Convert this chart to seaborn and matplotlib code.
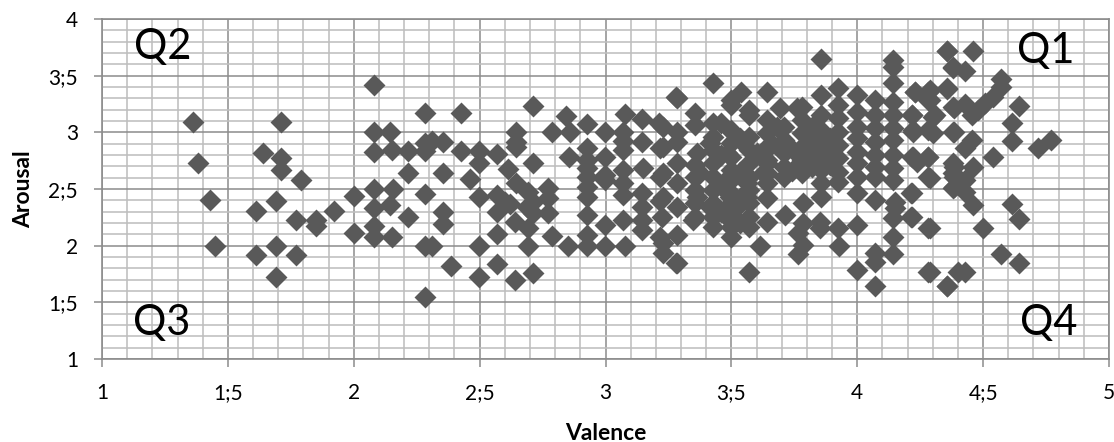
import matplotlib
matplotlib.use("Agg")
import matplotlib.pyplot as plt
import seaborn as sns
import pandas as pd
from matplotlib.ticker import MultipleLocator

sns.set_theme(style="white")
plt.rcParams['font.family'] = ['Lato', 'DejaVu Sans']

left_points = [
 (1.36,3.09),(1.38,2.73),(1.43,2.40),(1.45,2.0),(1.61,2.31),(1.61,1.92),(1.64,2.82),(1.69,2.39),
 (1.69,2.0),(1.69,1.72),(1.71,3.09),(1.71,2.77),(1.71,2.67),(1.77,2.23),(1.77,1.92),(1.79,2.58),
 (1.85,2.23),(1.85,2.17),(1.92,2.31),(2.0,2.44),(2.0,2.11),(2.08,3.42),(2.08,3.0),(2.08,2.83),
 (2.08,2.5),(2.08,2.33),(2.08,2.17),(2.08,2.08),
]
middle_points = [
 (2.144,3.0),(2.285,3.168),(2.428,3.168),(2.713,3.233),(2.845,3.144),(2.925,3.074),(3.077,3.159),
 (3.143,3.115),(3.214,3.08),(3.282,3.309),(2.644,3.0),(2.644,2.918),(2.644,2.874),(2.786,3.0),
 (2.859,3.0),(2.998,3.0),(3.07,3.0),(3.07,2.924),(3.143,2.912),(3.07,2.844),(2.925,2.859),
 (3.216,2.859),(2.153,2.844),(2.214,2.835),(2.285,2.835),(2.285,2.903),(2.309,2.924),(2.356,2.918),
 (2.428,2.835),(2.498,2.835),(2.498,2.727),(2.57,2.806),(2.614,2.674),(2.644,2.55),(2.713,2.727),
 (2.856,2.78),(2.928,2.756),(2.998,2.78),(2.928,2.683),(2.928,2.609),(2.928,2.521),(2.928,2.433),
 (2.998,2.624),(2.998,2.58),(3.07,2.668),(3.07,2.55),(3.07,2.447),(3.15,2.683),(3.216,2.609),
 (3.143,2.462),(3.143,2.344),(3.143,2.227),(3.143,2.138),(3.216,2.397),(3.223,2.256),(3.216,2.08),
 (3.23,1.933),(3.282,1.844),(2.214,2.644),(2.356,2.638),(2.461,2.588),(2.154,2.5),(2.285,2.456),
 (2.498,2.433),(2.57,2.447),(2.6,2.388),(2.62,2.368),(2.57,2.3),(2.693,2.477),(2.77,2.506),
 (2.773,2.418),(2.713,2.388),(2.687,2.344),(2.773,2.286),(2.713,2.286),(2.928,2.271),(2.144,2.359),
 (2.214,2.25),(2.356,2.3),(2.356,2.191),(2.64,2.212),(2.693,2.153),(2.57,2.103),(2.786,2.086),
 (2.925,2.094),(2.998,2.183),(3.07,2.227),(2.153,2.08),(2.285,2.0),(2.309,2.0),(2.498,2.0),
 (2.693,2.0),(2.852,2.0),(2.928,2.0),(2.998,2.0),(3.077,2.0),(2.385,1.821),(2.57,1.838),
 (2.498,1.727),(2.64,1.697),(2.713,1.756),(2.285,1.55),
]
dense_points = [
 (3.856,3.644),(4.143,3.638),(4.143,3.574),(4.355,3.718),(4.382,3.574),(3.428,3.432),(4.143,3.432),
 (3.285,3.306),(3.538,3.359),(3.5,3.285),(3.5,3.24),(3.643,3.359),(3.856,3.33),(3.925,3.388),
 (3.998,3.33),(4.07,3.285),(4.143,3.27),(4.23,3.359),(4.282,3.359),(4.355,3.38),(4.282,3.285),
 (4.384,3.212),(3.693,3.212),(3.779,3.227),(3.76,3.212),(3.571,3.197),(3.571,3.153),(3.356,3.168),
 (3.356,3.065),(3.925,3.241),(3.856,3.153),(3.925,3.124),(3.998,3.182),(4.07,3.153),(4.216,3.153),
 (4.309,3.153),(4.282,3.02),(4.223,3.02),(4.384,3.006),
 (3.856,3.02),(3.856,2.903),(3.856,2.785),(3.856,2.668),(3.856,2.55),(3.856,2.433),
 (3.925,3.006),(3.925,2.888),(3.925,2.771),(3.925,2.653),(3.925,2.565),
 (3.998,3.05),(3.998,2.947),(3.998,2.83),(3.998,2.727),(3.998,2.609),(3.998,2.462),
 (4.07,3.035),(4.07,2.918),(4.07,2.8),(4.07,2.697),(4.07,2.609),(4.07,2.403),
 (4.143,3.153),(4.143,3.035),(4.143,2.932),(4.143,2.8),(4.143,2.682),(4.143,2.58),
 (3.779,3.109),(3.779,2.991),(3.779,2.874),(3.779,2.756),(3.779,2.638),
 (3.71,3.05),(3.71,2.932),(3.71,2.815),(3.71,2.697),(3.71,2.609),
 (3.64,3.109),(3.64,2.991),(3.64,2.874),(3.64,2.756),(3.64,2.638),(3.64,2.55),
 (4.216,2.785),(4.236,2.741),(4.282,2.785),(4.282,2.609),(4.216,2.462),
 (4.384,2.697),(4.384,2.521),(4.384,2.609),
 (3.643,2.418),(3.786,2.374),(3.713,2.27),(3.64,2.212),(4.15,2.388),(4.15,2.33),(4.216,2.256),
 (4.143,2.241),(3.852,2.212),(3.852,2.153),(3.786,2.197),(3.766,2.109),(3.925,2.153),(3.998,2.182),
 (4.282,2.153),(4.143,2.079),(3.786,2.006),(3.766,1.927),(3.614,2.0),(3.929,1.997),(4.07,1.932),
 (4.07,1.859),(4.143,1.927),(3.571,1.771),(3.998,1.785),(4.07,1.644),(4.282,1.771),(4.355,1.644),
 (4.4,1.77),(3.285,1.85),(3.285,2.094),
 (3.285,3.006),(3.285,2.918),(3.285,2.727),(3.285,2.55),(3.285,2.344),
 (3.23,3.05),(3.23,2.874),(3.23,2.638),(3.23,2.432),(3.23,2.02),
 (3.356,2.712),(3.356,2.609),(3.356,2.491),(3.356,2.374),(3.356,2.256),
 (3.428,2.962),(3.428,2.844),(3.428,2.727),(3.428,2.609),(3.428,2.491),(3.428,2.374),(3.428,2.256),(3.428,2.168),
 (3.5,3.021),(3.5,2.903),(3.5,2.785),(3.5,2.668),(3.5,2.579),(3.5,2.462),(3.5,2.374),(3.5,2.256),(3.5,2.168),(3.5,2.079),
 (3.571,2.962),(3.571,2.844),(3.571,2.727),(3.571,2.609),(3.571,2.491),(3.571,2.374),(3.571,2.256),(3.571,2.168),
 (3.46,3.079),(3.46,2.8),(3.46,2.53),(3.46,2.3),(3.535,2.95),(3.535,2.65),(3.535,2.42),(3.535,2.2),
 (3.428,3.079),(3.508,2.991),(3.415,2.902),(3.548,2.902),(3.481,2.814),(3.6,2.814),(3.362,2.814),
 (3.64,2.726),(3.534,2.638),(3.375,2.638),(3.627,2.638),(3.468,2.55),(3.561,2.55),(3.362,2.432),
 (3.495,2.432),(3.561,2.432),(3.415,2.344),(3.521,2.344),(3.349,2.226),(3.495,2.226),
 (3.68,3.05),(3.66,2.9),(3.74,2.85),(3.74,2.66),
 (3.82,3.05),(3.82,2.93),(3.82,2.81),(3.82,2.69),(3.89,2.95),(3.89,2.83),(3.89,2.71),
]
right_points = [
 (4.358,3.718),(4.461,3.718),(4.382,3.571),(4.428,3.542),(4.571,3.468),(4.571,3.397),(4.54,3.315),
 (4.508,3.256),(4.481,3.197),(4.455,3.153),(4.428,3.25),(4.382,3.221),(4.644,3.233),(4.616,3.08),
 (4.616,2.927),(4.716,2.859),(4.768,2.933),(4.538,2.786),(4.461,2.697),(4.382,3.006),(4.455,2.933),
 (4.428,2.859),(4.382,2.727),(4.382,2.638),(4.428,2.58),(4.382,2.506),(4.428,2.477),(4.461,2.359),
 (4.616,2.368),(4.644,2.232),(4.501,2.153),(4.571,1.927),(4.644,1.844),(4.428,1.771),(4.287,1.771),
 (4.358,1.644),(4.287,2.153),(4.214,2.25),(4.214,2.462),(4.287,2.594),(4.23,3.359),(4.287,3.374),
 (4.358,3.388),(4.287,3.286),(4.302,3.138),(4.216,3.153),(4.302,2.992),(4.223,3.0),(4.223,2.786),
 (4.283,2.786),
]
x_tick_labels = ["1", "1;5", "2", "2;5", "3", "3;5", "4", "4;5", "5"]
y_tick_labels = ["1", "1;5", "2", "2;5", "3", "3;5", "4"]
quadrants = ["Q1", "Q2", "Q3", "Q4"]

W, H = 1114, 442
fig = plt.figure(figsize=(W / 100, H / 100), dpi=100, facecolor="white")
ax = fig.add_axes([102 / W, (H - 359) / H, (1109 - 102) / W, (359 - 19) / H])

df = pd.DataFrame(left_points + middle_points + dense_points + right_points,
                  columns=["Valence", "Arousal"])
ax.set_axisbelow(True)
sns.scatterplot(data=df, x="Valence", y="Arousal", marker="D", s=125, color="#595959",
                linewidth=0, ax=ax, zorder=3, clip_on=False)

ax.set_xlim(1, 5)
ax.set_ylim(1, 4)
ax.set_xticks([1 + 0.5 * i for i in range(len(x_tick_labels))], x_tick_labels)
ax.set_yticks([1 + 0.5 * i for i in range(len(y_tick_labels))], y_tick_labels)
ax.xaxis.set_minor_locator(MultipleLocator(0.1))
ax.yaxis.set_minor_locator(MultipleLocator(0.1))
ax.grid(which="minor", color="#BEBEBE", linewidth=1.15, zorder=0)
ax.grid(which="major", color="#8C8C8C", linewidth=1.1, zorder=1)
ax.tick_params(axis="both", which="major", length=5.8, width=1.1, color="#8C8C8C",
               labelsize=15, labelcolor="black", pad=11.5, bottom=True, left=True)
ax.tick_params(axis="both", which="minor", length=0)
for side in ax.spines.values():
    side.set_color("#8C8C8C")
    side.set_linewidth(1.2)

ax.set_xlabel("Valence", fontsize=16.5, fontweight="bold", color="black", labelpad=14.5)
ax.set_ylabel("Arousal", fontsize=16.5, fontweight="bold", color="black", labelpad=10)

for label, qx, qy in zip(quadrants, [4.75, 1.242, 1.238, 4.76], [3.611, 3.645, 1.211, 1.211]):
    ax.text(qx, qy, label, fontsize=30, color="black", ha="center", va="baseline", zorder=4)

fig.savefig("out.png", dpi=100, facecolor="white")
